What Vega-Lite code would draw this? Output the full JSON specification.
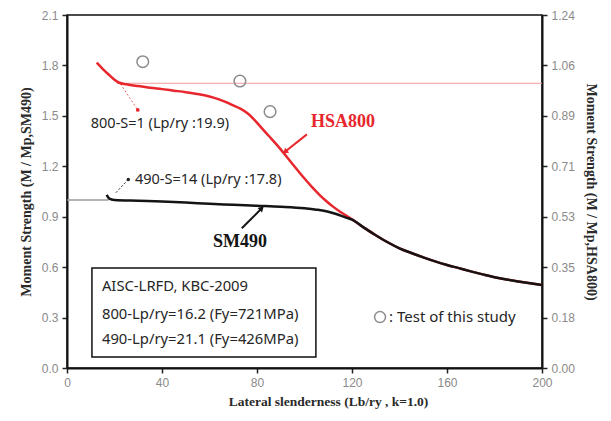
{
  "$schema": "https://vega.github.io/schema/vega-lite/v6.json",
  "width": 475,
  "height": 353,
  "autosize": {"type": "none"},
  "padding": {"left": 67, "top": 15, "right": 69, "bottom": 53},
  "background": "white",
  "config": {
    "view": {"stroke": "#111111", "strokeWidth": 1.5},
    "axis": {
      "labelFont": "Liberation Sans",
      "labelFontSize": 12,
      "labelColor": "#8a8a8a",
      "labelFlush": false,
      "domainColor": "#111111",
      "domainWidth": 2,
      "tickColor": "#222222",
      "tickWidth": 1.5,
      "tickSize": 5,
      "grid": false,
      "titleFont": "Liberation Serif",
      "titleFontWeight": "bold",
      "titleFontSize": 14,
      "titleColor": "#2a2a2a"
    }
  },
  "datasets": {
    "xgrid": [{"x": 20}, {"x": 40}, {"x": 60}, {"x": 80}, {"x": 100}, {"x": 120}, {"x": 140}, {"x": 160}, {"x": 180}],
    "ygrid": [{"y": 0.3}, {"y": 0.6}, {"y": 0.9}, {"y": 1.2}, {"y": 1.5}, {"y": 1.8}],
    "mp490": [{"x": 0, "y": 1.0}, {"x": 17.5, "y": 1.0}],
    "mp800": [{"x": 21, "y": 1.694}, {"x": 200, "y": 1.694}],
    "hsa800": [
      {"x": 12.5, "y": 1.816}, {"x": 15, "y": 1.78}, {"x": 18, "y": 1.74}, {"x": 20, "y": 1.715},
      {"x": 22, "y": 1.697}, {"x": 25, "y": 1.688}, {"x": 30, "y": 1.677}, {"x": 35, "y": 1.667},
      {"x": 40, "y": 1.659}, {"x": 45, "y": 1.65}, {"x": 50, "y": 1.641}, {"x": 55, "y": 1.63},
      {"x": 60, "y": 1.615}, {"x": 64, "y": 1.598}, {"x": 67, "y": 1.582}, {"x": 70, "y": 1.562},
      {"x": 73, "y": 1.543}, {"x": 76, "y": 1.515}, {"x": 79, "y": 1.475}, {"x": 82, "y": 1.427},
      {"x": 85, "y": 1.38}, {"x": 88, "y": 1.333}, {"x": 91, "y": 1.283}, {"x": 94, "y": 1.23},
      {"x": 97, "y": 1.178}, {"x": 100, "y": 1.127}, {"x": 103, "y": 1.079}, {"x": 106, "y": 1.035},
      {"x": 109, "y": 0.995}, {"x": 112, "y": 0.96}, {"x": 115, "y": 0.93}, {"x": 118, "y": 0.903},
      {"x": 120, "y": 0.885}, {"x": 125, "y": 0.835}, {"x": 130, "y": 0.79},
      {"x": 135, "y": 0.748}, {"x": 140, "y": 0.712}, {"x": 145, "y": 0.684}, {"x": 150, "y": 0.658},
      {"x": 155, "y": 0.634}, {"x": 160, "y": 0.613}, {"x": 165, "y": 0.594}, {"x": 170, "y": 0.575},
      {"x": 175, "y": 0.557}, {"x": 180, "y": 0.54}, {"x": 185, "y": 0.527}, {"x": 190, "y": 0.515},
      {"x": 195, "y": 0.504}, {"x": 200, "y": 0.494}
    ],
    "sm490": [
      {"x": 16.7, "y": 1.03}, {"x": 17.5, "y": 1.012}, {"x": 18.5, "y": 1.004}, {"x": 20, "y": 1.0},
      {"x": 30, "y": 0.995}, {"x": 40, "y": 0.99}, {"x": 50, "y": 0.984}, {"x": 60, "y": 0.977},
      {"x": 70, "y": 0.971}, {"x": 80, "y": 0.965}, {"x": 90, "y": 0.959}, {"x": 100, "y": 0.95},
      {"x": 105, "y": 0.942}, {"x": 110, "y": 0.93}, {"x": 113, "y": 0.918}, {"x": 115, "y": 0.908},
      {"x": 117.5, "y": 0.895}, {"x": 120, "y": 0.883}, {"x": 125, "y": 0.835}, {"x": 130, "y": 0.79},
      {"x": 135, "y": 0.748}, {"x": 140, "y": 0.712}, {"x": 145, "y": 0.684}, {"x": 150, "y": 0.658},
      {"x": 155, "y": 0.634}, {"x": 160, "y": 0.613}, {"x": 165, "y": 0.594}, {"x": 170, "y": 0.575},
      {"x": 175, "y": 0.557}, {"x": 180, "y": 0.54}, {"x": 185, "y": 0.527}, {"x": 190, "y": 0.515},
      {"x": 195, "y": 0.504}, {"x": 200, "y": 0.494}
    ],
    "leader800": [{"x": 22.5, "y": 1.69}, {"x": 29.8, "y": 1.535}],
    "leader490": [{"x": 20.6, "y": 1.043}, {"x": 25.8, "y": 1.122}],
    "arrow_hsa": [{"x": 101, "y": 1.39}, {"x": 91.8, "y": 1.286}],
    "arrow_sm": [{"x": 73.6, "y": 0.831}, {"x": 82, "y": 0.95}],
    "tests": [{"x": 31.9, "y": 1.822}, {"x": 72.8, "y": 1.707}, {"x": 85.5, "y": 1.525}],
    "key": [{"x": 131.8, "y": 0.303, "label": ": Test of this study"}],
    "code_box": [{"x": 10.5, "x2": 104.8, "y": 0.595, "y2": 0.065}],
    "code_lines": [
      {"x": 14.7, "y": 0.484, "label": "AISC-LRFD, KBC-2009"},
      {"x": 14.7, "y": 0.315, "label": "800-Lp/ry=16.2 (Fy=721MPa)"},
      {"x": 14.7, "y": 0.167, "label": "490-Lp/ry=21.1 (Fy=426MPa)"}
    ],
    "notes": [
      {"x": 10, "y": 1.452, "label": "800-S=1 (Lp/ry :19.9)"},
      {"x": 28.6, "y": 1.118, "label": "490-S=14 (Lp/ry :17.8)"}
    ]
  },
  "encoding": {
    "x": {
      "field": "x",
      "type": "quantitative",
      "scale": {"domain": [0, 200], "nice": false, "zero": false},
      "axis": {
        "values": [0, 40, 80, 120, 160, 200],
        "labelPadding": 4,
        "title": "Lateral slenderness (Lb/ry , k=1.0)",
        "titleFontSize": 13.5,
        "titleX": 261,
        "titlePadding": 6
      }
    },
    "y": {
      "field": "y",
      "type": "quantitative",
      "scale": {"domain": [0, 2.1], "nice": false, "zero": false},
      "axis": null
    }
  },
  "layer": [
    {
      "data": {"name": "xgrid"},
      "mark": {"type": "rule", "color": "#c4c4c4", "strokeWidth": 1.5, "opacity": 1},
      "encoding": {
        "y": {"datum": 0, "type": "quantitative", "scale": {"domain": [0, 2.1], "nice": false, "zero": false}, "axis": null},
        "y2": {"datum": 2.1}
      }
    },
    {
      "data": {"name": "ygrid"},
      "mark": {"type": "rule", "color": "#c4c4c4", "strokeWidth": 1.5, "opacity": 1},
      "encoding": {
        "x": {"datum": 0, "type": "quantitative", "scale": {"domain": [0, 200], "nice": false, "zero": false}},
        "x2": {"datum": 200}
      }
    },
    {
      "data": {"name": "mp490"},
      "mark": {"type": "line", "color": "#9a9a9a", "strokeWidth": 1.5},
      "encoding": {
        "y": {
          "field": "y",
          "type": "quantitative",
          "scale": {"domain": [0, 2.1], "nice": false, "zero": false},
          "axis": {
            "orient": "left",
            "values": [0, 0.3, 0.6, 0.9, 1.2, 1.5, 1.8, 2.1],
            "format": ".1f",
            "labelPadding": 4,
            "title": "Moment Strength  (M / Mp,SM490)            ",
            "titlePadding": 8
          }
        }
      }
    },
    {
      "data": {"name": "mp800"},
      "mark": {"type": "line", "color": "#f29a9a", "strokeWidth": 1.2}
    },
    {
      "data": {"name": "hsa800"},
      "mark": {"type": "line", "color": "#e8262d", "strokeWidth": 2.5, "interpolate": "monotone"}
    },
    {
      "data": {"name": "sm490"},
      "mark": {"type": "line", "color": "#141414", "strokeWidth": 2.5, "interpolate": "monotone"},
      "encoding": {
        "y": {
          "field": "y",
          "type": "quantitative",
          "scale": {"domain": [0, 2.1], "nice": false, "zero": false},
          "axis": {
            "orient": "right",
            "values": [0, 0.3, 0.6, 0.9, 1.2, 1.5, 1.8, 2.1],
            "labelExpr": "format(datum.value * 1.24 / 2.1, '.2f')",
            "labelPadding": 4,
            "title": "         Moment Strength  (M / Mp,HSA800)",
            "titleAngle": 90,
            "titlePadding": 9
          }
        }
      }
    },
    {
      "data": {"name": "leader800"},
      "mark": {"type": "line", "color": "#e8262d", "strokeWidth": 1, "strokeDash": [2, 2], "opacity": 0.7}
    },
    {
      "data": {"name": "leader800"},
      "transform": [{"filter": "datum.y < 1.6"}],
      "mark": {"type": "point", "filled": true, "color": "#e8262d", "size": 14, "opacity": 1}
    },
    {
      "data": {"name": "leader490"},
      "mark": {"type": "line", "color": "#222222", "strokeWidth": 1, "strokeDash": [2, 2]}
    },
    {
      "data": {"name": "leader490"},
      "transform": [{"filter": "datum.y > 1.1"}],
      "mark": {"type": "point", "filled": true, "color": "#222222", "size": 12, "opacity": 1}
    },
    {
      "data": {"name": "arrow_hsa"},
      "mark": {"type": "line", "color": "#e8262d", "strokeWidth": 2}
    },
    {
      "data": {"name": "arrow_hsa"},
      "transform": [{"filter": "datum.x < 95"}],
      "mark": {"type": "point", "shape": "triangle-up", "angle": 232, "filled": true, "color": "#e8262d", "size": 40, "opacity": 1}
    },
    {
      "data": {"name": "arrow_sm"},
      "mark": {"type": "line", "color": "#141414", "strokeWidth": 2}
    },
    {
      "data": {"name": "arrow_sm"},
      "transform": [{"filter": "datum.y > 0.9"}],
      "mark": {"type": "point", "shape": "triangle-up", "angle": 45, "filled": true, "color": "#141414", "size": 40, "opacity": 1}
    },
    {
      "data": {"name": "tests"},
      "mark": {"type": "point", "shape": "circle", "filled": false, "color": "#8c8c8c", "strokeWidth": 1.5, "size": 135, "opacity": 1}
    },
    {
      "data": {"name": "code_box"},
      "mark": {"type": "rect", "fill": "white", "stroke": "#111111", "strokeWidth": 1.5},
      "encoding": {
        "x2": {"field": "x2"},
        "y2": {"field": "y2"}
      }
    },
    {
      "data": {"name": "code_lines"},
      "mark": {"type": "text", "align": "left", "baseline": "middle", "font": "Noto Sans", "fontSize": 14.8, "color": "#262626"},
      "encoding": {"text": {"field": "label"}}
    },
    {
      "data": {"name": "key"},
      "mark": {"type": "point", "shape": "circle", "filled": false, "color": "#8c8c8c", "strokeWidth": 1.5, "size": 120, "opacity": 1}
    },
    {
      "data": {"name": "key"},
      "mark": {"type": "text", "align": "left", "baseline": "middle", "dx": 9, "font": "Noto Sans", "fontSize": 15, "color": "#262626"},
      "encoding": {"text": {"field": "label"}}
    },
    {
      "data": {"name": "notes"},
      "mark": {"type": "text", "align": "left", "baseline": "middle", "font": "Noto Sans", "fontSize": 14.5, "color": "#262626"},
      "encoding": {"text": {"field": "label"}}
    },
    {
      "data": {"values": [{"x": 116.2, "y": 1.463, "label": "HSA800"}]},
      "mark": {"type": "text", "align": "center", "baseline": "middle", "font": "Liberation Serif", "fontWeight": "bold", "fontSize": 18, "color": "#e8262d"},
      "encoding": {"text": {"field": "label"}}
    },
    {
      "data": {"values": [{"x": 72.8, "y": 0.75, "label": "SM490"}]},
      "mark": {"type": "text", "align": "center", "baseline": "middle", "font": "Liberation Serif", "fontWeight": "bold", "fontSize": 18, "color": "#141414"},
      "encoding": {"text": {"field": "label"}}
    }
  ],
  "resolve": {"axis": {"y": "independent"}}
}
